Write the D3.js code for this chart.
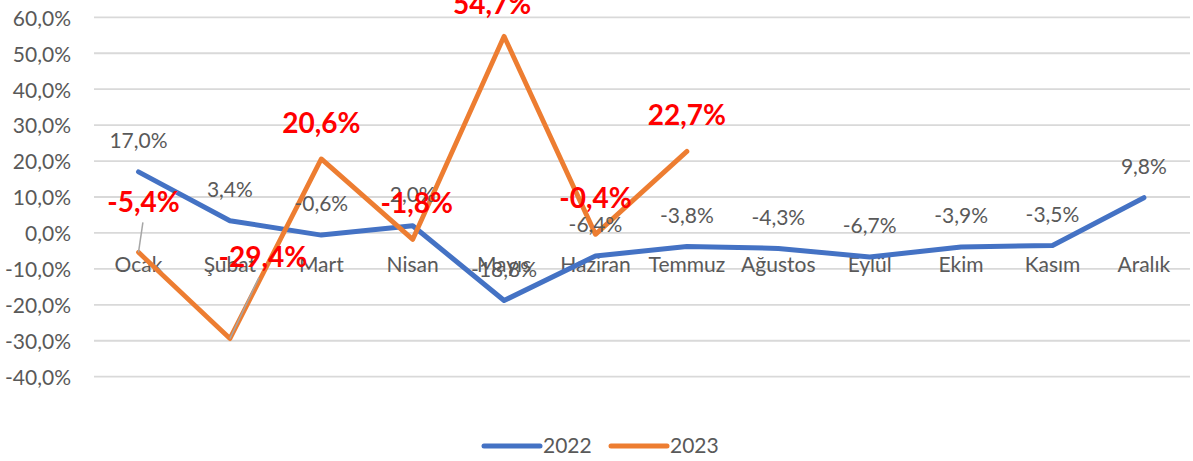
<!DOCTYPE html>
<html>
<head>
<meta charset="utf-8">
<script src="https://cdn.jsdelivr.net/npm/d3@7"></script>
<style>
  body { margin: 0; background: #fff; }
  svg { display: block; font-family: Lato, "Open Sans", sans-serif; }
</style>
</head>
<body>
<script>
// data
const months = ["Ocak", "Şubat", "Mart", "Nisan", "Mayıs", "Haziran", "Temmuz",
  "Ağustos", "Eylül", "Ekim", "Kasım", "Aralık"];
const values2022 = [17.0, 3.4, -0.6, 2.0, -18.8, -6.4, -3.8, -4.3, -6.7, -3.9, -3.5, 9.8];
const values2023 = [-5.4, -29.4, 20.6, -1.8, 54.7, -0.4, 22.7];
const yTicks = [-40, -30, -20, -10, 0, 10, 20, 30, 40, 50, 60];
const seriesNames = ["2022", "2023"];

// label nudges for the 2023 labels (Excel moved some by hand)
const labelNudge2023 = {
  0: { dx: 5, dy: -50, leader: true },
  1: { dx: 33, dy: -81, leader: true },
  3: { dx: 4, dy: -36 },
  4: { dx: -12, dy: -32 }
};

const w = 1193, h = 461;
const gray = "#595959";
const blue = "#4472C4", orange = "#ED7D31";
const fmt = (v) => v.toFixed(1).replace(".", ",") + "%";

const svg = d3.select("body").append("svg")
  .attr("width", w).attr("height", h);
svg.append("rect").attr("width", w).attr("height", h).attr("fill", "#fff");

// * SCALES
const x = d3.scaleBand().domain(months).range([92.8, 1189.6]);
const cx = (m) => x(m) + x.bandwidth() / 2;
const y = d3.scaleLinear().domain([-40, 60]).range([376.7, 17.3]);

// * GRID + Y LABELS
svg.append("g").selectAll("line").data(yTicks).enter().append("line")
  .attr("x1", 94).attr("x2", 1190)
  .attr("y1", (d) => y(d)).attr("y2", (d) => y(d))
  .attr("stroke", "#d9d9d9").attr("stroke-width", 1.8);

svg.append("g").selectAll("text").data(yTicks).enter().append("text")
  .attr("x", 71).attr("y", (d) => y(d) + 1)
  .attr("dy", "0.35em")
  .attr("text-anchor", "end")
  .attr("font-size", 21).attr("fill", gray)
  .text((d) => d.toFixed(1).replace(".", ",") + "%");

// * CATEGORY LABELS
svg.append("g").selectAll("text").data(months).enter().append("text")
  .attr("x", (d) => cx(d)).attr("y", 272)
  .attr("text-anchor", "middle")
  .attr("font-size", 21).attr("fill", gray)
  .text((d) => d);

// * LINES
const line = d3.line().x((d, i) => cx(months[i])).y((d) => y(d));
svg.append("path").datum(values2022)
  .attr("d", line).attr("fill", "none")
  .attr("stroke", blue).attr("stroke-width", 5)
  .attr("stroke-linejoin", "round").attr("stroke-linecap", "round");
svg.append("path").datum(values2023)
  .attr("d", line).attr("fill", "none")
  .attr("stroke", orange).attr("stroke-width", 4.8)
  .attr("stroke-linejoin", "round").attr("stroke-linecap", "round");

// * DATA LABELS 2022
svg.append("g").selectAll("text").data(values2022).enter().append("text")
  .attr("x", (d, i) => cx(months[i]))
  .attr("y", (d) => y(d) - 31)
  .attr("dy", "0.35em")
  .attr("text-anchor", "middle")
  .attr("font-size", 21).attr("fill", gray)
  .text((d) => fmt(d));

// * LEADER LINES 2023
const lab23 = values2023.map((v, i) => {
  const n = labelNudge2023[i] || { dx: 0, dy: -36 };
  return { v, px: cx(months[i]), py: y(v), lx: cx(months[i]) + n.dx, ly: y(v) + n.dy, leader: !!n.leader };
});
svg.append("g").selectAll("line").data(lab23.filter((d) => d.leader)).enter().append("line")
  .attr("x1", (d) => d.px).attr("y1", (d) => d.py)
  .attr("x2", (d) => d.lx + (d.px - d.lx) * 0.12)
  .attr("y2", (d) => d.ly + 20)
  .attr("stroke", "#a6a6a6").attr("stroke-width", 1.5);

// * DATA LABELS 2023
svg.append("g").selectAll("text").data(lab23).enter().append("text")
  .attr("x", (d) => d.lx).attr("y", (d) => d.ly)
  .attr("dy", "0.35em")
  .attr("text-anchor", "middle")
  .attr("font-size", 28).attr("font-weight", "bold").attr("fill", "#ff0000")
  .text((d) => fmt(d.v));

// * LEGEND
const legend = svg.append("g");
const legendItems = [
  { name: seriesNames[0], color: blue, x0: 484 },
  { name: seriesNames[1], color: orange, x0: 611 }
];
legend.selectAll("line").data(legendItems).enter().append("line")
  .attr("x1", (d) => d.x0).attr("x2", (d) => d.x0 + 56)
  .attr("y1", 446).attr("y2", 446)
  .attr("stroke", (d) => d.color).attr("stroke-width", 5)
  .attr("stroke-linecap", "round");
legend.selectAll("text").data(legendItems).enter().append("text")
  .attr("x", (d) => d.x0 + 59).attr("y", 446)
  .attr("dy", "0.35em")
  .attr("font-size", 21).attr("fill", gray)
  .text((d) => d.name);
</script>
</body>
</html>
